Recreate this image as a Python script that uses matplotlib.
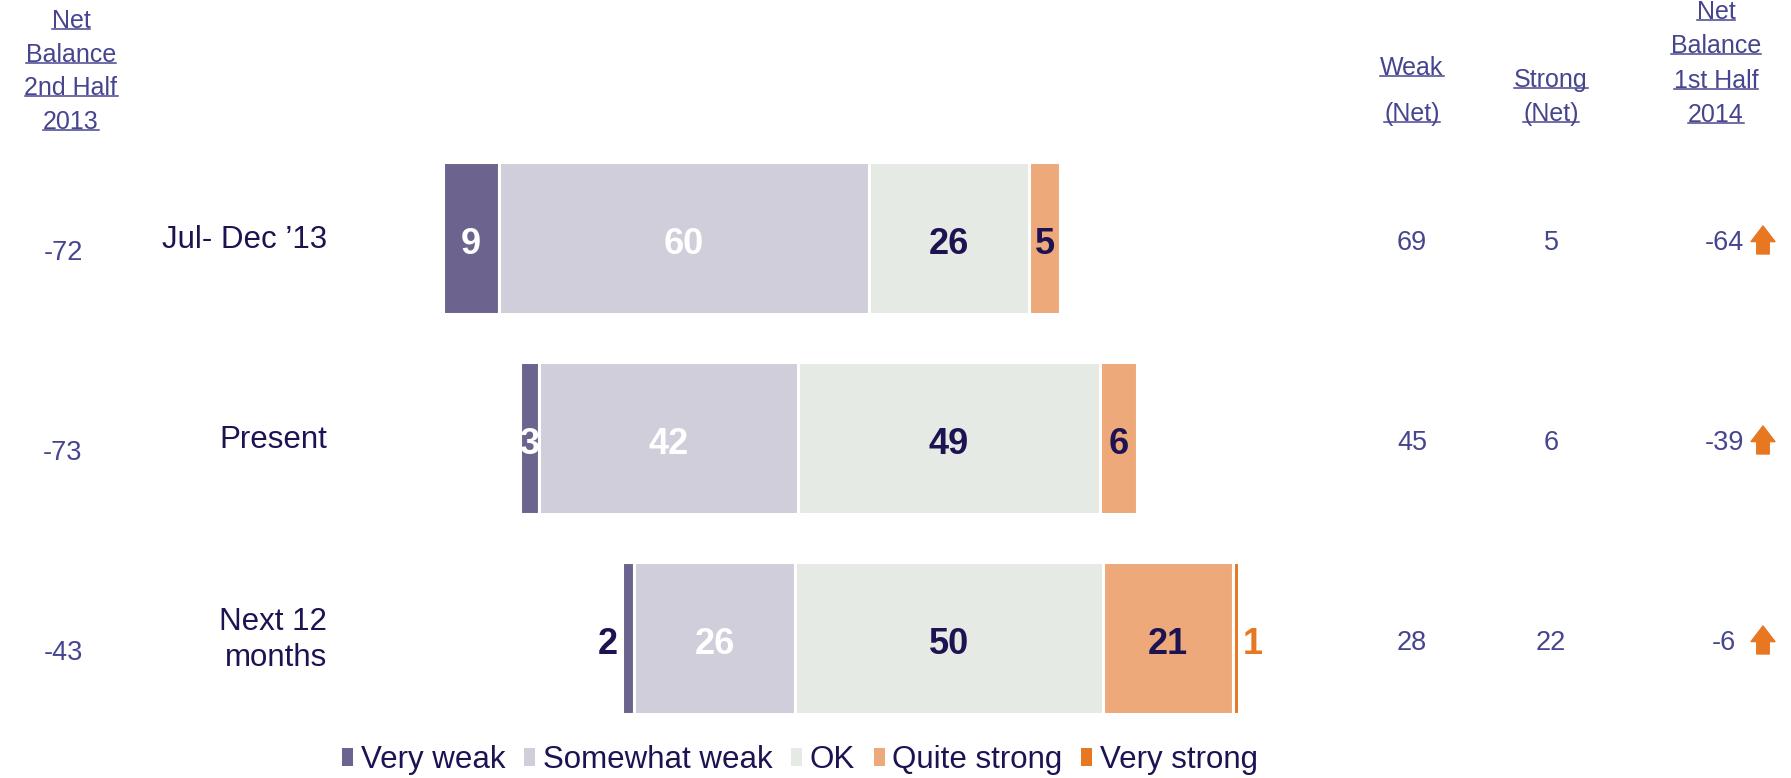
import numpy as np
import matplotlib.pyplot as plt
from matplotlib.patches import Patch
from matplotlib.lines import Line2D

plt.rcParams['font.family'] = ['Liberation Sans', 'DejaVu Sans']

# survey shares (%) per period
periods = ["Jul- Dec \u201913", "Present", "Next 12\nmonths"]
levels = ["Very weak", "Somewhat weak", "OK", "Quite strong", "Very strong"]
very_weak = [9, 3, 2]
somewhat_weak = [60, 42, 26]
ok = [26, 49, 50]
quite_strong = [5, 6, 21]
very_strong = [0, 0, 1]

weak_net = [69, 45, 28]
strong_net = [5, 6, 22]
net_2013 = [-72, -73, -43]
net_2014 = [-64, -39, -6]

colors = ["#6C648F", "#D0CEDB", "#E5EAE4", "#EEA97A", "#E87722"]
navy = "#1E1352"
blue = "#46458E"

W, H = 1791, 778
fig = plt.figure(figsize=(W / 100, H / 100), dpi=100)
ax = fig.add_axes([0, 0, 1, 1])

# x: 0 is the middle of the OK segment, 6.17 px per point
px_per = 6.17
cx = 949
ax.set_xlim(-cx / px_per, (W - cx) / px_per)
# y: rows 200 px apart, first row centred 238 px from the top
ax.set_ylim(2 + (H - 638) / 200, -238 / 200)
ax.axis('off')

data = np.array([very_weak, somewhat_weak, ok, quite_strong, very_strong], dtype=float)
y = np.arange(len(periods))
left = -(data[0] + data[1] + data[2] / 2)

for k in range(len(levels)):
    ax.barh(y, data[k], left=left, height=0.76, color=colors[k],
            edgecolor='white', linewidth=2.2)
    for i in range(len(periods)):
        v = data[k][i]
        if v == 0:
            continue
        x0 = left[i]
        mid = x0 + v / 2
        ly = y[i] + 0.03
        kw = dict(fontsize=26, fontweight='bold', va='center')
        if k == 0:
            if v >= 3:
                ax.text(mid, ly, f"{v:.0f}", ha='center', color='white', **kw)
            else:
                ax.text(x0 - 0.6, ly, f"{v:.0f}", ha='right', color=navy, **kw)
        elif k == 1:
            ax.text(mid, ly, f"{v:.0f}", ha='center', color='white', **kw)
        elif k == 4:
            ax.text(x0 + v + 0.6, ly, f"{v:.0f}", ha='left', color=colors[4], **kw)
        else:
            ax.text(mid, ly, f"{v:.0f}", ha='center', color=navy, **kw)
    left = left + data[k]

tr = ax.get_yaxis_transform()

# period labels
for i, p in enumerate(periods):
    ax.text(327 / W, y[i] + 0.01, p, transform=tr, ha='right', va='center',
            fontsize=22.5, color=navy, multialignment='right', linespacing=1.3)

# side columns
for i in range(len(periods)):
    ax.text(63 / W, y[i] + 0.075, f"{net_2013[i]}", transform=tr, ha='center', va='center',
            fontsize=19.5, color=blue)
    ax.text(1412 / W, y[i] + 0.025, f"{weak_net[i]}", transform=tr, ha='center', va='center',
            fontsize=19.5, color=blue)
    ax.text(1551 / W, y[i] + 0.025, f"{strong_net[i]}", transform=tr, ha='center', va='center',
            fontsize=19.5, color=blue)
    ax.text(1724 / W, y[i] + 0.025, f"{net_2014[i]}", transform=tr, ha='center', va='center',
            fontsize=19.5, color=blue)
    ax.annotate('', xy=(1763 / W, y[i] - 0.06), xytext=(1763 / W, y[i] + 0.08),
                xycoords=tr, textcoords=tr,
                arrowprops=dict(arrowstyle='simple,head_width=1.15,head_length=0.75,tail_width=0.6',
                                color=colors[4], shrinkA=0, shrinkB=0, mutation_scale=15))

# underlined column headers
headers = [
    (["Net", "Balance", "2nd Half", "2013"], 71, 21, 33.7),
    (["Weak", "(Net)"], 1412, 68, 46),
    (["Strong", "(Net)"], 1551, 80, 34),
    (["Net", "Balance", "1st Half", "2014"], 1716, 12, 34.3),
]
head_texts = []
for lines, hx, top, step in headers:
    for j, line in enumerate(lines):
        t = fig.text(hx / W, 1 - (top + j * step) / H, line, ha='center', va='center',
                     fontsize=18, color=blue)
        head_texts.append(t)

fig.canvas.draw()
renderer = fig.canvas.get_renderer()
for t in head_texts:
    bb = t.get_window_extent(renderer)
    uy = (bb.y0 + 0.17 * bb.height) / H
    fig.add_artist(Line2D([bb.x0 / W, bb.x1 / W], [uy, uy], color=blue, linewidth=1.1))

handles = [Patch(facecolor=c, edgecolor='none', label=l) for c, l in zip(colors, levels)]
fig.legend(handles=handles, loc='center', bbox_to_anchor=(800 / W, 1 - 760 / H), ncol=5,
           frameon=False, fontsize=22.5, labelcolor=navy, handlelength=0.35,
           handleheight=0.5, handletextpad=0.25, columnspacing=0.6, borderpad=0)

fig.savefig("out.png", dpi=100)
